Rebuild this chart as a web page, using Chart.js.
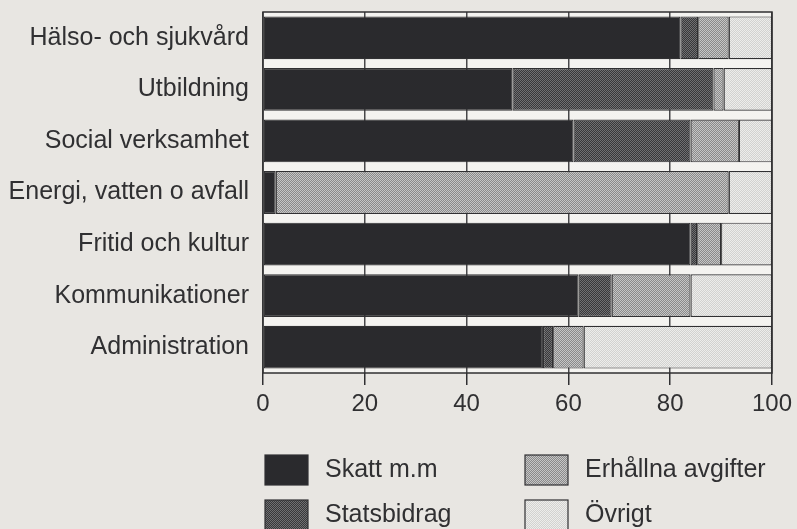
<!DOCTYPE html>
<html>
<head>
<meta charset="utf-8">
<script src="https://cdn.jsdelivr.net/npm/chart.js@4/dist/chart.umd.min.js"></script>
<style>
  html, body { margin: 0; padding: 0; background: #e8e6e2; }
  #wrap { position: relative; width: 797px; height: 529px; }
</style>
</head>
<body>
<div id="wrap"><canvas id="chart" width="797" height="529"></canvas></div>
<script>
const categories = [
  'Hälso- och sjukvård',
  'Utbildning',
  'Social verksamhet',
  'Energi, vatten o avfall',
  'Fritid och kultur',
  'Kommunikationer',
  'Administration',
];
const skatt = [82, 49, 61, 2.5, 84, 62, 55];
const statsbidrag = [3.5, 39.5, 23, 0, 1.3, 6.5, 2];
const avgifter = [6, 2, 9.5, 89, 4.7, 15.5, 6];
const ovrigt = [8.5, 9.5, 6.5, 8.5, 10, 16, 37];
const xTicks = [0, 20, 40, 60, 80, 100];

const FONT = "'Liberation Sans', Arial, sans-serif";
const INK = '#303032';

const canvas = document.getElementById('chart');
const ctx = canvas.getContext('2d');

// halftone-like checker fill
function dither(a, b) {
  const c = document.createElement('canvas');
  c.width = 2;
  c.height = 2;
  const p = c.getContext('2d');
  p.fillStyle = a;
  p.fillRect(0, 0, 2, 2);
  p.fillStyle = b;
  p.fillRect(0, 0, 1, 1);
  p.fillRect(1, 1, 1, 1);
  return ctx.createPattern(c, 'repeat');
}

const fills = [
  '#2a2a2d',
  dither('#38383a', '#707072'),
  dither('#8a8a8a', '#c6c6c6'),
  dither('#d2d2d0', '#ededeb'),
];

const plotBg = {
  id: 'plotBg',
  beforeDraw(chart) {
    const { ctx: c, chartArea: a } = chart;
    c.save();
    c.fillStyle = '#f4f3f0';
    c.fillRect(a.left, a.top, a.right - a.left, a.bottom - a.top);
    c.restore();
  },
  afterDraw(chart) {
    const { ctx: c, chartArea: a } = chart;
    c.save();
    c.strokeStyle = INK;
    c.lineWidth = 1.5;
    c.strokeRect(a.left, a.top, a.right - a.left, a.bottom - a.top);
    c.restore();
  },
};

// two-column legend under the axis
const boxLegend = {
  id: 'boxLegend',
  afterDraw(chart) {
    const c = chart.ctx;
    const cols = [265, 525];
    const rows = [455, 500];
    const order = [0, 2, 1, 3];
    c.save();
    c.font = '25px ' + FONT;
    c.textBaseline = 'middle';
    order.forEach((di, k) => {
      const ds = chart.data.datasets[di];
      const x = cols[k % 2];
      const y = rows[Math.floor(k / 2)];
      c.fillStyle = ds.backgroundColor;
      c.fillRect(x, y, 43, 30);
      c.strokeStyle = INK;
      c.lineWidth = 1.2;
      c.strokeRect(x, y, 43, 30);
      c.fillStyle = INK;
      c.fillText(ds.label, x + 60, y + 15);
    });
    c.restore();
  },
};

new Chart(canvas, {
  type: 'bar',
  data: {
    labels: categories,
    datasets: [
      { label: 'Skatt m.m', data: skatt, backgroundColor: fills[0] },
      { label: 'Statsbidrag', data: statsbidrag, backgroundColor: fills[1] },
      { label: 'Erhållna avgifter', data: avgifter, backgroundColor: fills[2] },
      { label: 'Övrigt', data: ovrigt, backgroundColor: fills[3] },
    ].map((d) => ({
      ...d,
      borderColor: INK,
      borderWidth: 1.2,
      borderSkipped: false,
      barPercentage: 0.83,
      categoryPercentage: 1,
    })),
  },
  options: {
    indexAxis: 'y',
    responsive: false,
    animation: false,
    layout: { padding: { left: 0, right: 25, top: 12, bottom: 116 } },
    plugins: {
      legend: { display: false },
      tooltip: { enabled: false },
    },
    scales: {
      x: {
        stacked: true,
        min: 0,
        max: 100,
        afterBuildTicks(scale) {
          scale.ticks = xTicks.map((v) => ({ value: v }));
        },
        afterFit(scale) {
          scale.height = 40;
          scale.paddingLeft = 0;
          scale.paddingRight = 0;
        },
        border: { display: false },
        grid: {
          color: '#48484a',
          lineWidth: 1.5,
          drawTicks: true,
          tickLength: 12,
          tickColor: INK,
        },
        ticks: {
          color: INK,
          padding: 5,
          font: { family: FONT, size: 24 },
        },
      },
      y: {
        stacked: true,
        afterFit(scale) {
          scale.width = 263;
          scale.paddingTop = 0;
          scale.paddingBottom = 0;
        },
        border: { display: false },
        grid: { display: false, drawTicks: false },
        ticks: {
          color: INK,
          padding: 14,
          font: { family: FONT, size: 25 },
        },
      },
    },
  },
  plugins: [plotBg, boxLegend],
});
</script>
</body>
</html>
